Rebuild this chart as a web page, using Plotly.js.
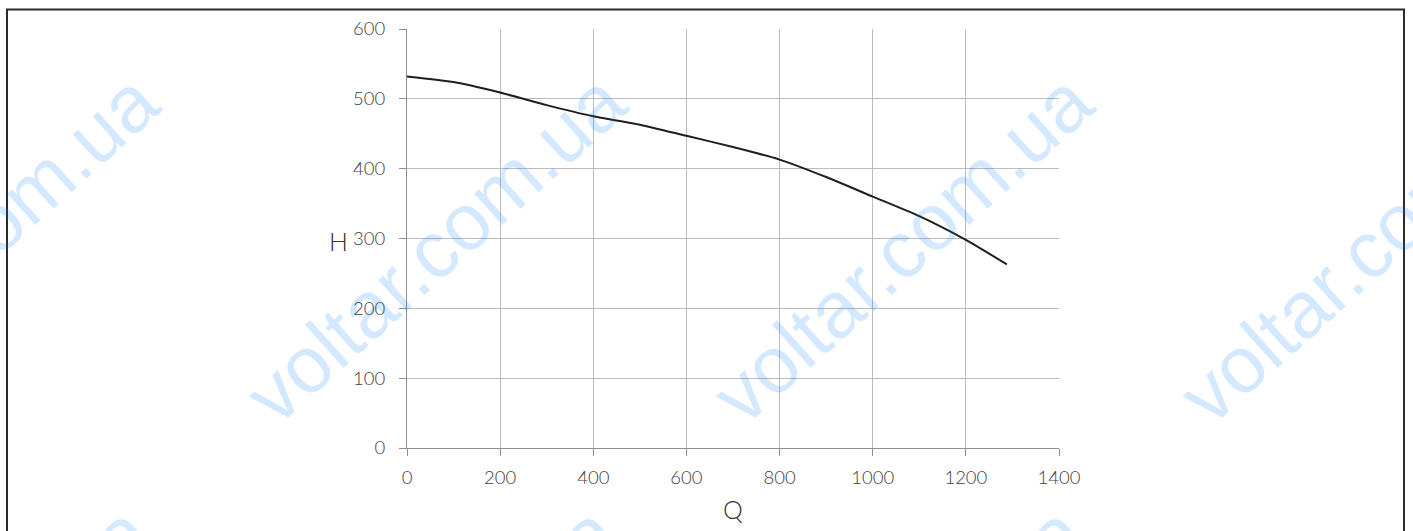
<!DOCTYPE html>
<html>
<head>
<meta charset="utf-8">
<script src="https://cdn.plot.ly/plotly-3.0.1.min.js"></script>
<style>
  html, body { margin: 0; padding: 0; background: #ffffff; }
  #chart { width: 1413px; height: 531px; }
</style>
</head>
<body>
<div id="chart"></div>
<script>
// ---- data ----
const flowQ = [0, 100, 200, 300, 400, 500, 600, 700, 800, 900, 1000, 1100, 1200, 1288];
const headH = [532, 524, 509, 491, 475, 463, 447, 431, 413, 388, 360, 332, 298, 263];
const xTickVals = [0, 200, 400, 600, 800, 1000, 1200, 1400];
const yTickVals = [0, 100, 200, 300, 400, 500, 600];
const xTitle = 'Q';
const yTitle = 'H';
const watermarkText = 'voltar.com.ua';

// ---- layout geometry (pixels) ----
const W = 1413, Hh = 531;
const M = { l: 407, r: 354, t: 29, b: 83 };
const PW = W - M.l - M.r, PH = Hh - M.t - M.b;
const px = x => (x - M.l) / PW;
const py = y => (Hh - M.b - y) / PH;

const wmCentres = [
  [-32, 248], [435, 248], [902, 248], [1369, 248],
  [-40, 680], [427, 680], [894, 680], [1361, 680]
];

const annotations = wmCentres.map(c => ({
  xref: 'paper', yref: 'paper', x: px(c[0]), y: py(c[1]),
  xanchor: 'center', yanchor: 'middle', showarrow: false,
  text: watermarkText, textangle: -42,
  font: { family: 'Liberation Sans, Arial, sans-serif', size: 80, color: 'rgba(0,122,255,0.17)' }
}));

annotations.push({
  xref: 'paper', yref: 'paper', x: px(338), y: py(241),
  xanchor: 'center', yanchor: 'middle', showarrow: false,
  text: yTitle,
  font: { family: 'Lato, Open Sans, sans-serif', size: 25, weight: 300, color: '#333333' }
});

const trace = {
  x: flowQ, y: headH, type: 'scatter', mode: 'lines',
  line: { color: '#1e1e1e', width: 2, shape: 'spline', smoothing: 0.5 },
  hoverinfo: 'x+y', showlegend: false
};

const axisCommon = {
  showline: true, linecolor: '#8e8e8e', linewidth: 1,
  showgrid: true, gridcolor: '#bcbcbc', gridwidth: 1,
  zeroline: false,
  ticks: 'outside', ticklen: 7, tickcolor: '#8e8e8e', tickwidth: 1,
  tickfont: { family: 'Lato, Open Sans, sans-serif', size: 18.5, weight: 300, color: '#404040' },
  fixedrange: true
};

const layout = {
  width: W, height: Hh,
  margin: M,
  paper_bgcolor: '#ffffff', plot_bgcolor: '#ffffff',
  showlegend: false,
  xaxis: Object.assign({}, axisCommon, {
    range: [0, 1400], tickmode: 'array', tickvals: xTickVals,
    ticklabelstandoff: 6,
    title: { text: xTitle, standoff: 14, font: { family: 'Lato, Open Sans, sans-serif', size: 25, weight: 300, color: '#333333' } }
  }),
  yaxis: Object.assign({}, axisCommon, {
    range: [0, 600], tickmode: 'array', tickvals: yTickVals,
    ticklabelstandoff: 10
  }),
  annotations: annotations,
  shapes: [{
    type: 'rect', xref: 'paper', yref: 'paper', layer: 'below',
    x0: px(7), x1: px(1404), y0: py(545), y1: py(9.5),
    line: { color: '#2b2b2b', width: 2 }, fillcolor: 'rgba(0,0,0,0)'
  }]
};

Plotly.newPlot('chart', [trace], layout, { displayModeBar: false, staticPlot: true });
</script>
</body>
</html>
